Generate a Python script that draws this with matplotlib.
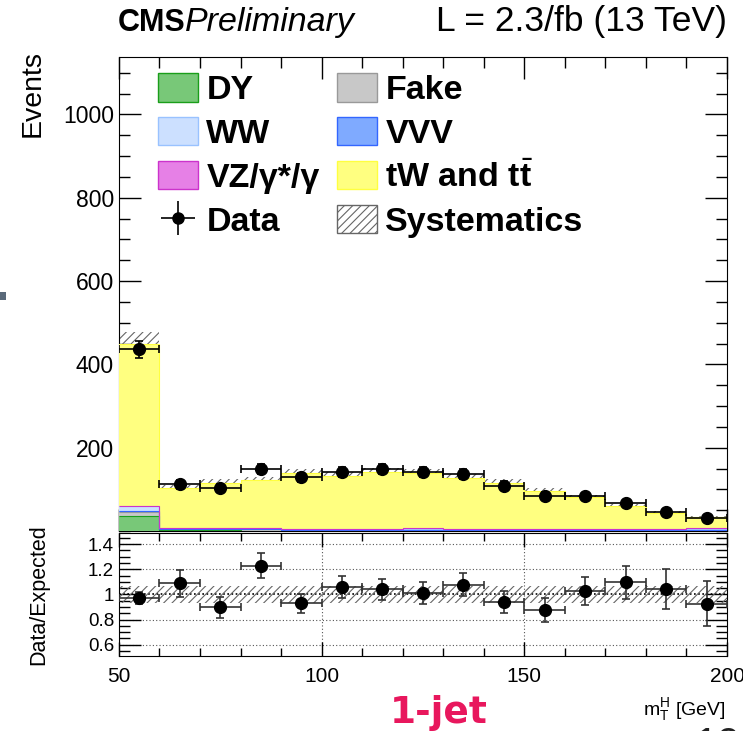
"""CMS-style stacked mT^H distribution, 1-jet category, with data/expected ratio panel."""
import numpy as np
import matplotlib.pyplot as plt
from matplotlib.patches import Rectangle, Patch
from matplotlib.ticker import MultipleLocator

plt.rcParams['font.family'] = ['Liberation Sans', 'DejaVu Sans']
plt.rcParams['mathtext.fontset'] = 'custom'
plt.rcParams['mathtext.rm'] = 'Liberation Sans'
plt.rcParams['mathtext.bf'] = 'Liberation Sans:bold'
plt.rcParams['mathtext.it'] = 'Liberation Sans:italic'
plt.rcParams['hatch.color'] = '#666666'
plt.rcParams['hatch.linewidth'] = 0.8

# bin edges in GeV
edges = np.arange(50, 201, 10)
centers = edges[:-1] + 5

# background components (events per bin), bottom to top of the stack
dy = [35, 3, 3, 1, 1, 1, 1, 1, 1, 1, 1, 1, 1, 1, 1]
fake = [11, 1, 1, 3, 1, 1, 1, 1, 1, 1, 1, 1, 1, 1, 1]
vvv = [1, 0.5, 0.5, 0.5, 0.5, 0.5, 0.5, 0.5, 0.5, 0.5, 0.5, 0.5, 0.5, 0.5, 0.5]
ww = [13, 2, 2, 2, 2, 2, 2, 2, 2, 2, 2, 2, 2, 2, 2]
vz = [1, 0.5, 0.5, 0.5, 0.5, 0.5, 0.5, 2, 0.5, 0.5, 0.5, 0.5, 0.5, 0.5, 2]
tw_tt = [388, 96, 109, 115, 134, 128, 137, 133, 122, 111, 92, 76, 56, 39, 27]

# relative systematic uncertainty on the expectation
syst_rel = [0.065, 0.07, 0.07, 0.07, 0.07, 0.065, 0.065, 0.07, 0.07, 0.07, 0.07, 0.07, 0.065, 0.07, 0.07]

# observed data
data = [436, 112, 104, 150, 129, 141, 148, 141, 137, 109, 85, 83, 67, 46, 31]
data_err = [21, 11, 10, 12, 11, 12, 12, 12, 12, 10, 9, 9, 8, 7, 6]

ttbar_label = r'tW and t$\bar{\mathbf{t}}$'
components = [
    ('DY', dy, '#78c878', '#1a9e1a'),
    ('Fake', fake, '#c8c8c8', '#999999'),
    ('VVV', vvv, '#7faaff', '#3366ff'),
    ('WW', ww, '#cce0ff', '#99c2ff'),
    ('VZ/γ*/γ', vz, '#e680e6', '#cc33cc'),
    (ttbar_label, tw_tt, '#ffff80', '#ffff40'),
]

fig = plt.figure(figsize=(7.43, 7.31), dpi=100)
ax = fig.add_axes([0.160, 0.2736, 0.8185, 0.6484])
rax = fig.add_axes([0.160, 0.1026, 0.8185, 0.1684], sharex=ax)

# stacked histogram
bottom = np.zeros(len(centers))
for name, vals, fc, ec in components:
    vals = np.array(vals, dtype=float)
    ax.stairs(bottom + vals, edges, baseline=bottom, fill=True,
              facecolor=fc, edgecolor=fc, linewidth=0, zorder=3)
    ax.stairs(bottom + vals, edges, baseline=None, color=ec, linewidth=0.8, zorder=3.1)
    bottom = bottom + vals
mc_total = bottom

# systematics band, drawn below the stack so only the upper part shows
syst = np.array(syst_rel)
ax.stairs(mc_total * (1 + syst), edges, baseline=mc_total * (1 - syst), fill=True,
          facecolor='none', edgecolor='#666666', hatch='////', linewidth=0, zorder=2)

ax.errorbar(centers, data, xerr=5, yerr=data_err, fmt='o', color='black',
            markersize=8.5, elinewidth=1.2, capsize=3, capthick=1.2, zorder=5)

ax.set_xlim(50, 200)
ax.yaxis.set_minor_locator(MultipleLocator(50))
ax.xaxis.set_major_locator(MultipleLocator(50))
ax.xaxis.set_minor_locator(MultipleLocator(10))
ax.set_yticks([200, 400, 600, 800, 1000])
ax.set_ylim(0, 1138)
ax.tick_params(axis='both', which='both', direction='in', top=True, right=True)
ax.tick_params(axis='both', which='major', length=16, width=1, labelsize=16.5)
ax.tick_params(axis='both', which='minor', length=8, width=1)
ax.tick_params(axis='x', labelbottom=False)
ax.set_ylabel('Events', fontsize=20.5, loc='top')
ax.yaxis.set_label_coords(-0.12, 1.014)

# legend
data_handle = ax.errorbar([np.nan], [np.nan], xerr=[1], yerr=[1], fmt='o', color='black',
                          markersize=8, elinewidth=1.2)
handles = [
    Patch(facecolor='#78c878', edgecolor='#1a9e1a'),
    Patch(facecolor='#cce0ff', edgecolor='#99c2ff'),
    Patch(facecolor='#e680e6', edgecolor='#cc33cc'),
    data_handle,
    Patch(facecolor='#c8c8c8', edgecolor='#999999'),
    Patch(facecolor='#7faaff', edgecolor='#3366ff'),
    Patch(facecolor='#ffff80', edgecolor='#ffff40'),
    Patch(facecolor='white', edgecolor='#666666', hatch='////'),
]
labels = ['DY', 'WW', 'VZ/γ*/γ', 'Data', 'Fake', 'VVV', ttbar_label, 'Systematics']
ax.legend(handles, labels, ncol=2, loc='upper left', bbox_to_anchor=(0.064, 0.966),
          frameon=False, prop={'weight': 'bold', 'size': 24.5}, handlelength=1.18,
          handleheight=0.91, handletextpad=0.25, columnspacing=0.5, labelspacing=0.32,
          borderpad=0, borderaxespad=0)

# ratio panel
ratio = np.array(data) / mc_total
ratio_err = np.array(data_err) / mc_total
rax.stairs(1 + syst, edges, baseline=1 - syst, fill=True, facecolor='none',
           edgecolor='#666666', hatch='////', linewidth=0, zorder=2)
for yv in [0.6, 0.8, 1.2, 1.4]:
    rax.axhline(yv, color='#555555', linestyle=(0, (1, 2)), linewidth=0.8, zorder=1)
rax.axhline(1.0, color='black', linestyle=(0, (1, 1.5)), linewidth=1.2, zorder=1)
for xv in [100, 150]:
    rax.axvline(xv, color='#555555', linestyle=(0, (1, 2)), linewidth=0.8, zorder=1)
rax.errorbar(centers, ratio, xerr=5, yerr=ratio_err, fmt='o', color='black',
             markersize=8.5, elinewidth=1.2, capsize=3, capthick=1.2, zorder=5,
             ecolor='#333333')
rax.set_ylim(0.51, 1.49)
rax.set_yticks([0.6, 0.8, 1.0, 1.2, 1.4])
rax.set_yticklabels(['0.6', '0.8', '1', '1.2', '1.4'])
rax.yaxis.set_minor_locator(MultipleLocator(0.05))
rax.set_xticks([50, 100, 150, 200])
rax.tick_params(axis='both', which='both', direction='in', top=True, right=True)
rax.tick_params(axis='y', which='major', length=16, width=1, labelsize=13.5)
rax.tick_params(axis='y', which='minor', length=8, width=1)
rax.tick_params(axis='x', which='major', length=10, width=1, labelsize=15, pad=8)
rax.tick_params(axis='x', which='minor', length=6, width=1)
rax.set_ylabel('Data/Expected', fontsize=15.5)
rax.yaxis.set_label_coords(-0.115, 0.5)

# header and annotations
fig.text(0.159, 0.957, 'CMS', fontsize=22, fontweight='bold', ha='left', va='baseline')
fig.text(0.249, 0.957, 'Preliminary', fontsize=24.5, style='italic', ha='left', va='baseline')
fig.text(0.978, 0.957, 'L = 2.3/fb (13 TeV)', fontsize=25.5, ha='right', va='baseline')
fig.text(0.976, 0.022, r'$\mathrm{m}_{\mathrm{T}}^{\mathrm{H}}$ [GeV]', fontsize=14,
         ha='right', va='baseline')
fig.text(0.590, 0.011, '1-jet', fontsize=27, fontweight='bold', color='#e8175d',
         family='DejaVu Sans', ha='center', va='baseline')
fig.text(0.935, -0.035, '19', fontsize=30, color='#222222', ha='left', va='baseline')
fig.add_artist(Rectangle((0.0, 0.589), 0.008, 0.011, transform=fig.transFigure,
                         facecolor='#5a6a7a', edgecolor='none'))

plt.savefig('out.png', dpi=100, facecolor='white')
print("Saved: out.png")
